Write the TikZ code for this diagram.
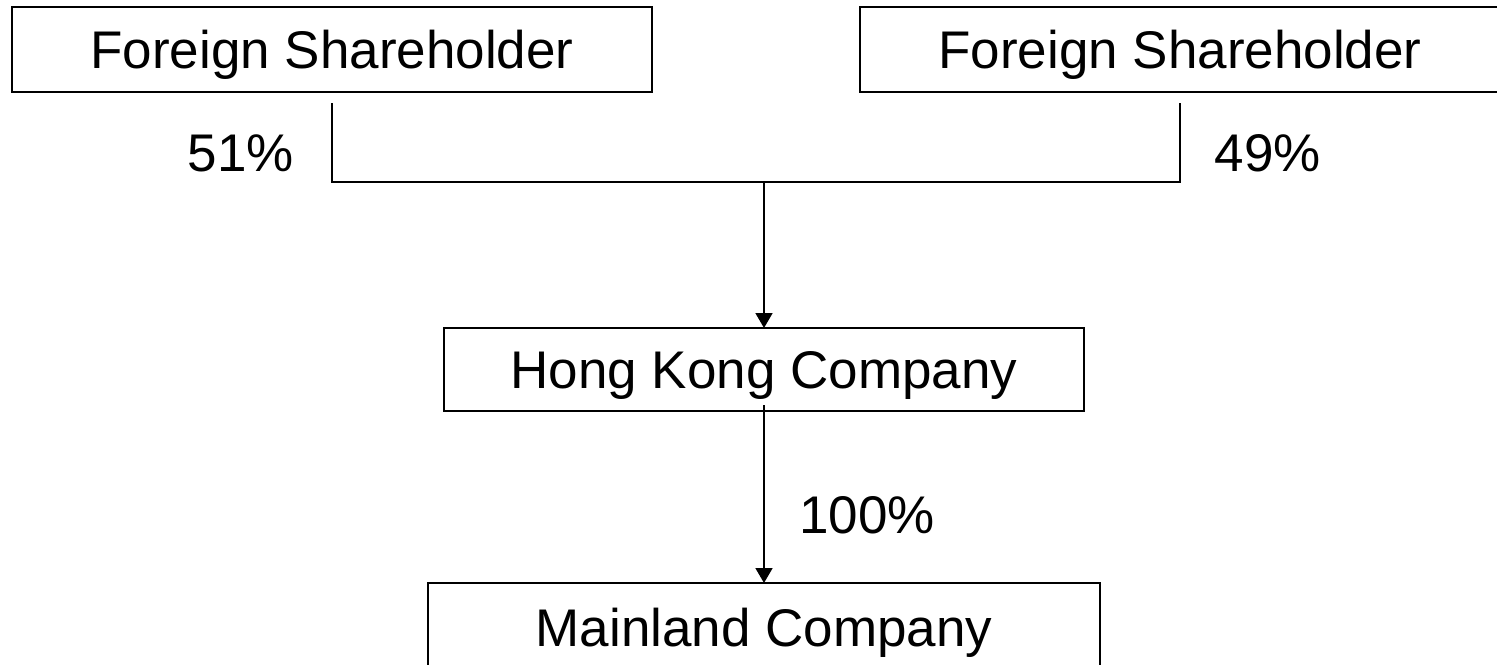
\documentclass[tikz,border=0pt]{standalone}
\usepackage{fontspec}
\setmainfont{Liberation Sans}
\usetikzlibrary{arrows.meta}
\begin{document}
\begin{tikzpicture}[x=0.5pt,y=-0.5pt,
  box/.style={draw, line width=0.95pt, inner sep=0pt, outer sep=0pt, minimum width=320pt, minimum height=42.5pt, text height=18.5pt, text depth=0pt, font=\fontsize{26.5}{30}\selectfont},
  lbl/.style={inner sep=0pt, anchor=base, font=\fontsize{26.5}{30}\selectfont},
  conn/.style={line width=0.9pt},
  arr/.style={conn, -{Triangle[width=8.5pt,length=7.5pt]}}]
\useasboundingbox (0,0) rectangle (1497,664);
\node[box] (fs1) at (332,49.5) {Foreign Shareholder};
\node[box] (fs2) at (1180,49.5) {Foreign Shareholder};
\node[box, minimum height=41.5pt] (hk) at (764,369.5) {Hong Kong Company};
\node[box, minimum width=336pt, minimum height=45pt] (ml) at (764,628) {Mainland Company};
\coordinate (j1) at (332,182);
\coordinate (j2) at (1180,182);
\coordinate (jm) at (764,182);
\draw[conn] ([yshift=-5.5pt]fs1.south) -- (j1) -- (j2) -- ([yshift=-5.5pt]fs2.south);
\draw[arr] (jm) -- (hk.north);
\draw[arr] ([yshift=3pt]hk.south) -- (ml.north);
\node[lbl] (p51) at (241,171) {51\%};
\node[lbl] (p49) at (1268,171) {49\%};
\node[lbl] (p100) at (867,533) {100\%};
\end{tikzpicture}
\end{document}
